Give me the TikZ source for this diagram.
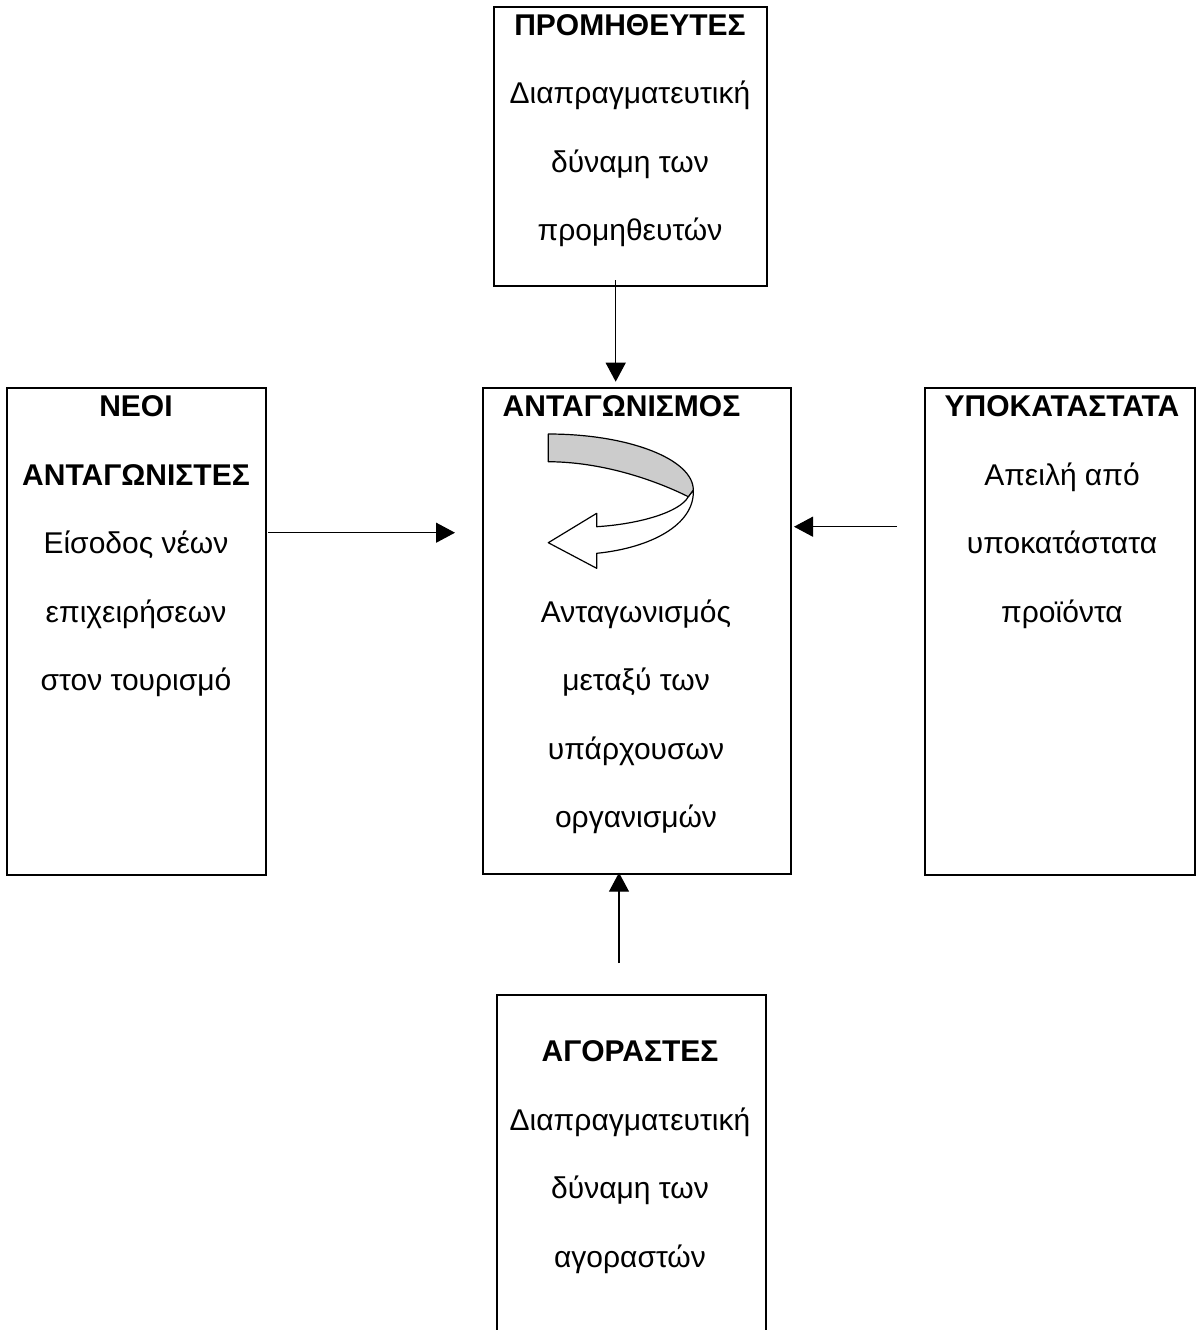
\documentclass[tikz,border=0pt]{standalone}
\usepackage{fontspec}
\setmainfont{Liberation Sans}
\usetikzlibrary{arrows.meta}
\begin{document}
\begin{tikzpicture}[x=0.5pt,y=-0.5pt,
  box/.style={draw,line width=1pt,inner sep=0pt},
  txt/.style={anchor=base,inner sep=0pt,font=\fontsize{15}{18}\selectfont},
  btxt/.style={txt,font=\fontsize{15}{18}\selectfont\bfseries},
  arr/.style={line width=0.65pt,-{Triangle[length=9.5pt,width=10pt]}},
  curv/.style={line width=0.6pt,line join=round}]
\useasboundingbox (0,0) rectangle (1196,1330);
\clip (0,0) rectangle (1196,1330);
% boxes
\node[box,minimum width=136.5pt,minimum height=139.5pt] (top) at (630.5,146.5) {};
\node[box,minimum width=154pt,minimum height=243pt] (mid) at (637,631) {};
\node[box,minimum width=129.5pt,minimum height=243.5pt] (lft) at (136.5,631.5) {};
\node[box,minimum width=135pt,minimum height=243.5pt] (rgt) at (1060,631.5) {};
\node[box,minimum width=134.5pt,minimum height=175pt] (bot) at (631.5,1170) {};
% texts top
\node[btxt] (t1) at (630,35) {ΠΡΟΜΗΘΕΥΤΕΣ};
\node[txt] (t2) at (630,103.5) {Διαπραγματευτική};
\node[txt] (t3) at (630,172) {δύναμη των};
\node[txt] (t4) at (630,240.5) {προμηθευτών};
% texts middle
\node[btxt] (m1) at (621.5,416.7) {ΑΝΤΑΓΩΝΙΣΜΟΣ};
\node[txt] (m2) at (636,622) {Ανταγωνισμός};
\node[txt] (m3) at (636,690.5) {μεταξύ των};
\node[txt] (m4) at (636,759) {υπάρχουσων};
\node[txt] (m5) at (636,827.5) {οργανισμών};
% texts left
\node[btxt] (l1) at (136,416.5) {ΝΕΟΙ};
\node[btxt] (l2) at (136,485) {ΑΝΤΑΓΩΝΙΣΤΕΣ};
\node[txt] (l3) at (136,553.5) {Είσοδος νέων};
\node[txt] (l4) at (136,622) {επιχειρήσεων};
\node[txt] (l5) at (136,690.5) {στον τουρισμό};
% texts right
\node[btxt] (r1) at (1062,416.5) {ΥΠΟΚΑΤΑΣΤΑΤΑ};
\node[txt] (r2) at (1062,485) {Απειλή από};
\node[txt] (r3) at (1062,553.5) {υποκατάστατα};
\node[txt] (r4) at (1062,622) {προϊόντα};
% texts bottom
\node[btxt] (b1) at (630,1061.7) {ΑΓΟΡΑΣΤΕΣ};
\node[txt] (b2) at (630,1130) {Διαπραγματευτική};
\node[txt] (b3) at (630,1198.5) {δύναμη των};
\node[txt] (b4) at (630,1267) {αγοραστών};
% connector ends
\coordinate (ta) at (615.7,280);
\coordinate (tb) at (615.7,381.7);
\coordinate (la) at (268,532.7);
\coordinate (lb) at (455,532.7);
\coordinate (ra) at (897,526.7);
\coordinate (rb) at (794,526.7);
\coordinate (ba) at (619,963);
\coordinate (bb) at (619,872.7);
\draw[arr] (ta) -- (tb);
\draw[arr] (la) -- (lb);
\draw[arr] (ra) -- (rb);
\draw[arr] (ba) -- (bb);
% curved arrow
\draw[curv,fill=white] (688.3,496.7) .. controls (680,512) and (640,524) .. (596.7,526.7)
  -- (596.7,513.3) -- (548.3,542.7) -- (596.7,568.3) -- (596.7,553.3)
  .. controls (650,548) and (695,525) .. (693.3,490) -- cycle;
\draw[curv,fill={rgb,255:red,204;green,204;blue,204}] (548.3,434)
  .. controls (628.4,434) and (693.3,459.1) .. (693.3,490)
  -- (688.3,496.7)
  .. controls (665,485) and (610,462) .. (548.3,461.7) -- cycle;
\end{tikzpicture}
\end{document}
